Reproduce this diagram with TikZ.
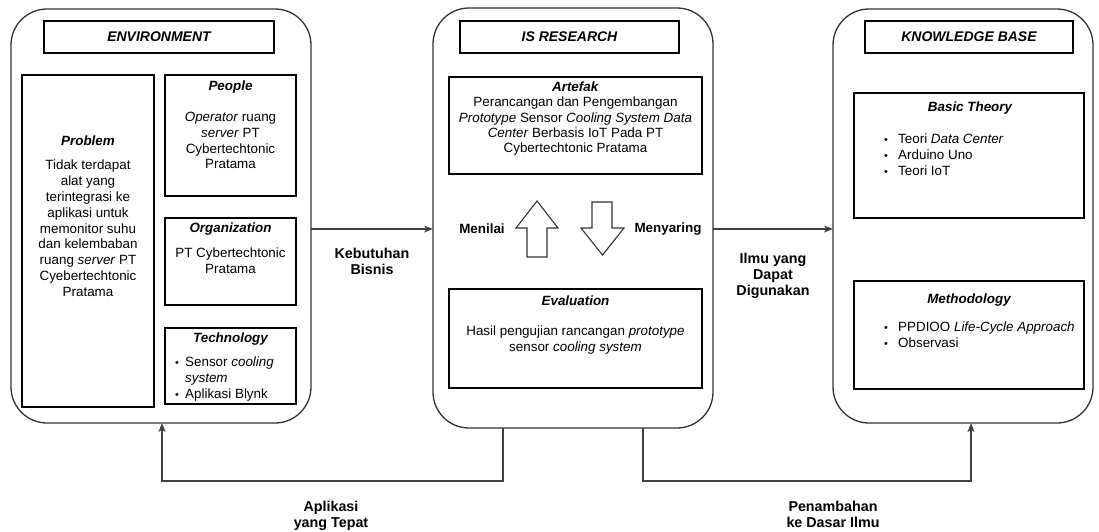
\documentclass[tikz,border=0pt]{standalone}
\usepackage{fontspec}
\setmainfont{Liberation Sans}
\usetikzlibrary{arrows.meta}
\newcommand{\bfs}{\fontsize{13.4}{15.8}\selectfont}
\newcommand{\bigfs}{\fontsize{14.3}{16}\selectfont}
\newcommand{\bl}[2]{\makebox[#1][l]{\raisebox{0.5pt}{\scalebox{0.8}{\textbullet}}}}
\begin{document}
\begin{tikzpicture}[x=1pt,y=-1pt,
  outer/.style={draw=black!80, line width=1.3pt, rounded corners=36pt, inner sep=0pt, outer sep=0pt},
  box/.style={draw=black, line width=1.1pt, inner sep=0pt, outer sep=0pt},
  tbox/.style={box, font=\fontsize{14}{16}\selectfont\bfseries\itshape},
  txt/.style={font=\bfs, inner sep=0pt, align=center},
  ttl/.style={font=\bfs\bfseries\itshape, inner sep=0pt},
  lbl/.style={font=\bigfs\bfseries, inner sep=0pt, align=center},
  conn/.style={draw=black!75, line width=1.1pt},
  tip/.style={-{Stealth[length=9pt,width=7pt,inset=2.5pt]}},
  blk/.style={draw=black!80, line width=1.1pt, fill=white, line join=miter}
]
\useasboundingbox (0,0) rectangle (1099,531);

% ---- outer containers
\node[outer, minimum width=300, minimum height=414] (env) at (161,216) {};
\node[outer, minimum width=280, minimum height=420] (is) at (573,218) {};
\node[outer, minimum width=260, minimum height=414] (kb) at (963,216) {};

% ---- title boxes
\node[tbox, minimum width=230, minimum height=32] (envT) at (159,37) {ENVIRONMENT};
\node[tbox, minimum width=219, minimum height=32] (isT) at (569.5,37) {IS RESEARCH};
\node[tbox, minimum width=208, minimum height=32] (kbT) at (969,37) {KNOWLEDGE BASE};

% ---- environment boxes
\node[box, minimum width=132, minimum height=332] (prob) at (88,241) {};
\node[box, minimum width=131, minimum height=121] (people) at (230.5,135.5) {};
\node[box, minimum width=131, minimum height=87] (org) at (230.5,261.5) {};
\node[box, minimum width=131, minimum height=76] (tech) at (230.5,366) {};

\node[ttl] (probT) at (88,141) {Problem};
\node[txt, anchor=north] (probB) at (88,160) {Tidak terdapat\\alat yang\\terintegrasi ke\\aplikasi untuk\\memonitor suhu\\dan kelembaban\\ruang \textit{server} PT\\Cyebertechtonic\\Pratama};

\node[ttl] (peopleT) at (230.5,87) {People};
\node[txt, anchor=north] (peopleB) at (230.5,112) {\textit{Operator} ruang\\\textit{server} PT\\Cybertechtonic\\Pratama};

\node[ttl] (orgT) at (230.5,229) {Organization};
\node[txt, anchor=north] (orgB) at (230.5,248) {PT Cybertechtonic\\Pratama};

\node[ttl] (techT) at (230.5,339) {Technology};
\node[txt, align=left, anchor=north west] (techB) at (175,357) {\bl{10pt}{}Sensor \textit{cooling}\\\hspace*{10pt}\textit{system}\\\bl{10pt}{}Aplikasi Blynk};

% ---- IS research boxes
\node[box, minimum width=253, minimum height=97] (art) at (575.5,125.5) {};
\node[box, minimum width=253, minimum height=99] (eval) at (575.5,338.5) {};

\node[txt, anchor=north, font=\fontsize{13.4}{15.3}\selectfont] (artB) at (575.5,81.5) {\textbf{\textit{Artefak}}\\Perancangan dan Pengembangan\\\textit{Prototype} Sensor \textit{Cooling System Data}\\\textit{Center} Berbasis IoT Pada PT\\Cybertechtonic Pratama};

\node[ttl] (evalT) at (575.5,301) {Evaluation};
\node[txt, anchor=north] (evalB) at (575.5,326) {Hasil pengujian rancangan \textit{prototype}\\sensor \textit{cooling system}};

\draw[blk] (527,257) -- (527,228) -- (516,228) -- (537,201) -- (558,228) -- (547,228) -- (547,257) -- cycle;
\draw[blk] (592,202) -- (612,202) -- (612,228) -- (624,228) -- (602.5,255) -- (581,228) -- (592,228) -- cycle;
\node[font=\bfs\bfseries, inner sep=0pt] (menilai) at (482,229) {Menilai};
\node[font=\bfs\bfseries, inner sep=0pt] (menyaring) at (668,229) {Menyaring};

% ---- knowledge base boxes
\node[box, minimum width=230, minimum height=125] (basic) at (969,155.5) {};
\node[box, minimum width=230, minimum height=108] (meth) at (969,335) {};

\node[ttl] (basicT) at (970,108) {Basic Theory};
\node[txt, align=left, anchor=north west] (basicB) at (884,134) {\bl{14pt}{}Teori \textit{Data Center}\\\bl{14pt}{}Arduino Uno\\\bl{14pt}{}Teori IoT};

\node[ttl] (methT) at (969,300) {Methodology};
\node[txt, align=left, anchor=north west] (methB) at (884,322) {\bl{14pt}{}PPDIOO \textit{Life-Cycle Approach}\\\bl{14pt}{}Observasi};

% ---- connectors
\coordinate (ay) at (0,229);
\coordinate (lowy) at (0,481);
\coordinate (b1) at (503,0);
\coordinate (b2) at (643,0);
\coordinate (envx) at (162,0);
\coordinate (kbx) at (971,0);

\draw[conn, tip] (env.east |- ay) -- (is.west |- ay);
\draw[conn, tip] (is.east |- ay) -- (kb.west |- ay);
\draw[conn, tip] (b1 |- is.south) |- (envx |- lowy) -- (envx |- env.south);
\draw[conn, tip] (b2 |- is.south) |- (kbx |- lowy) -- (kbx |- kb.south);

\node[lbl, anchor=north] (kebutuhan) at (372,247.5) {Kebutuhan\\Bisnis};
\node[lbl, anchor=north] (ilmu) at (773,252.5) {Ilmu yang\\Dapat\\Digunakan};
\node[lbl, anchor=north] (aplikasi) at (331,500.5) {Aplikasi\\yang Tepat};
\node[lbl, anchor=north] (penambahan) at (833,500.5) {Penambahan\\ke Dasar Ilmu};
\end{tikzpicture}
\end{document}
